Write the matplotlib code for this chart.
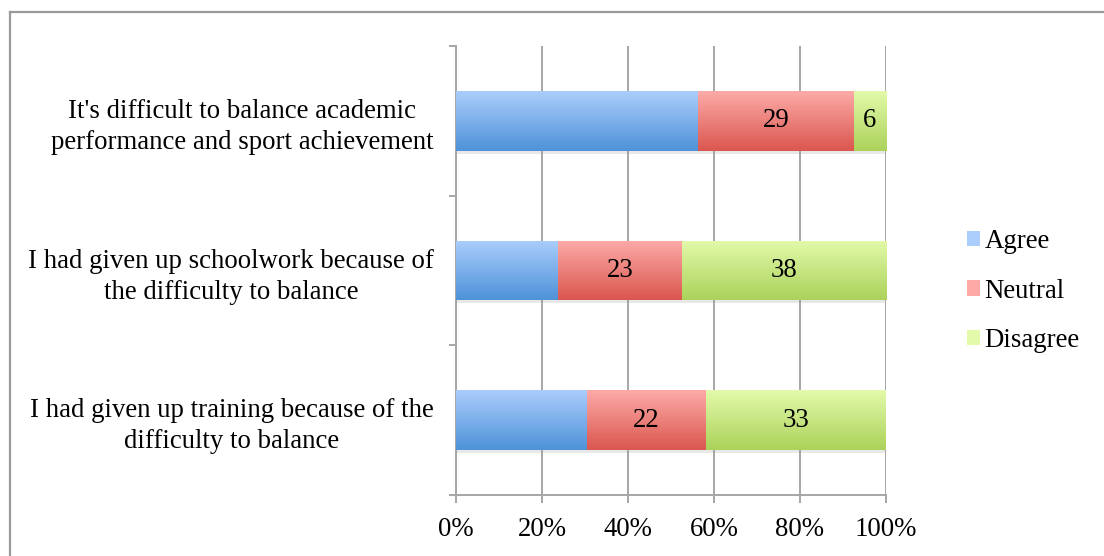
import matplotlib
matplotlib.use("Agg")
import matplotlib.pyplot as plt
import numpy as np
from matplotlib.patches import Rectangle
from matplotlib.lines import Line2D
import matplotlib.patheffects as pe
from matplotlib.colors import LinearSegmentedColormap

plt.rcParams['font.family'] = ['Liberation Serif', 'DejaVu Serif']

# Survey statements, listed top to bottom
statements = [
    "It's difficult to balance academic\nperformance and sport achievement",
    "I had given up schoolwork because of\nthe difficulty to balance",
    "I had given up training because of the\ndifficulty to balance",
]
agree = [45, 19, 24]
neutral = [29, 23, 22]
disagree = [6, 38, 33]
series_names = ["Agree", "Neutral", "Disagree"]
x_ticks = [0, 20, 40, 60, 80, 100]

# gradient colours (top, bottom) for each response
grad = {
    "Agree": ("#aacdfc", "#4e92d8"),
    "Neutral": ("#fdaaa7", "#da574f"),
    "Disagree": ("#e2faaa", "#acd25a"),
}

FS = 19.3

fig = plt.figure(figsize=(11.04, 5.56), dpi=100)
ax = fig.add_axes([456 / 1104, 1 - 495 / 556, 430 / 1104, 449 / 556])

n = len(statements)
ypos = np.arange(n)[::-1]  # first statement at top
counts = np.array([agree, neutral, disagree], dtype=float)
totals = counts.sum(axis=0)
pct = counts / totals * 100
bar_h = 0.4

# faint shadow under each whole bar
for i in range(n):
    sh = Rectangle((0, ypos[i] - bar_h / 2), 100, bar_h, facecolor="white",
                   edgecolor="none", zorder=2.5)
    sh.set_path_effects([pe.SimplePatchShadow(offset=(1.0, -2.0),
                                              shadow_rgbFace="#9a9a9a",
                                              alpha=0.22),
                         pe.Normal()])
    ax.add_patch(sh)

left = np.zeros(n)
for k, name in enumerate(series_names):
    top_c, bot_c = grad[name]
    cmap = LinearSegmentedColormap.from_list(name, [bot_c, top_c])
    bars = ax.barh(ypos, pct[k], left=left, height=bar_h, color="none",
                   edgecolor="none", zorder=3, label=name)
    for rect in bars:
        x0, y0 = rect.get_x(), rect.get_y()
        w, h = rect.get_width(), rect.get_height()
        img = ax.imshow(np.linspace(0, 1, 64).reshape(-1, 1), cmap=cmap,
                        extent=(x0, x0 + w, y0, y0 + h), origin="lower",
                        aspect="auto", zorder=3, interpolation="bilinear")
        img.set_clip_path(rect)
    if name != "Agree":
        for i in range(n):
            ax.text(left[i] + pct[k][i] / 2, ypos[i], f"{int(counts[k][i])}",
                    ha="center", va="center", fontsize=FS, color="black",
                    zorder=5)
    left = left + pct[k]

ax.set_xlim(0, 100)
ax.set_ylim(-0.5, n - 0.5)

grid_c = "#a6a6a6"
ax.set_xticks(x_ticks)
ax.set_xticklabels([f"{t}%" for t in x_ticks], fontsize=FS)
ax.xaxis.grid(True, color=grid_c, linewidth=1.4, zorder=0)
ax.set_axisbelow(True)
ax.tick_params(axis="x", length=6, width=1.4, color=grid_c, pad=10)

ax.set_yticks(np.arange(-0.5, n, 1.0))
ax.set_yticklabels([])
ax.tick_params(axis="y", which="major", length=5, width=1.4, color=grid_c)
ax.set_yticks(ypos, minor=True)
ax.set_yticklabels(statements, minor=True, fontsize=FS,
                   multialignment="center", linespacing=1.32)
ax.tick_params(axis="y", which="minor", length=0, pad=16)

for s in ["top", "right"]:
    ax.spines[s].set_visible(False)
for s in ["left", "bottom"]:
    ax.spines[s].set_color(grid_c)
    ax.spines[s].set_linewidth(1.4)

# legend
handles = [Rectangle((0, 0), 1, 1, facecolor=grad[nm][0]) for nm in series_names]
leg = fig.legend(handles, series_names, loc="center left",
                 bbox_to_anchor=(967 / 1104, 1 - 291 / 556), frameon=False,
                 fontsize=FS, handlelength=0.5, handleheight=0.5,
                 handletextpad=0.15, labelspacing=0.92, borderpad=0,
                 borderaxespad=0)

# outer chart frame
frame_c = "#9a9a9a"
fig.add_artist(Line2D([9.5 / 1104, 9.5 / 1104], [0, 1 - 12 / 556],
                      color=frame_c, linewidth=1.6))
fig.add_artist(Line2D([9.5 / 1104, 1], [1 - 12 / 556, 1 - 12 / 556],
                      color=frame_c, linewidth=1.6))

fig.savefig("out.png", dpi=100)
